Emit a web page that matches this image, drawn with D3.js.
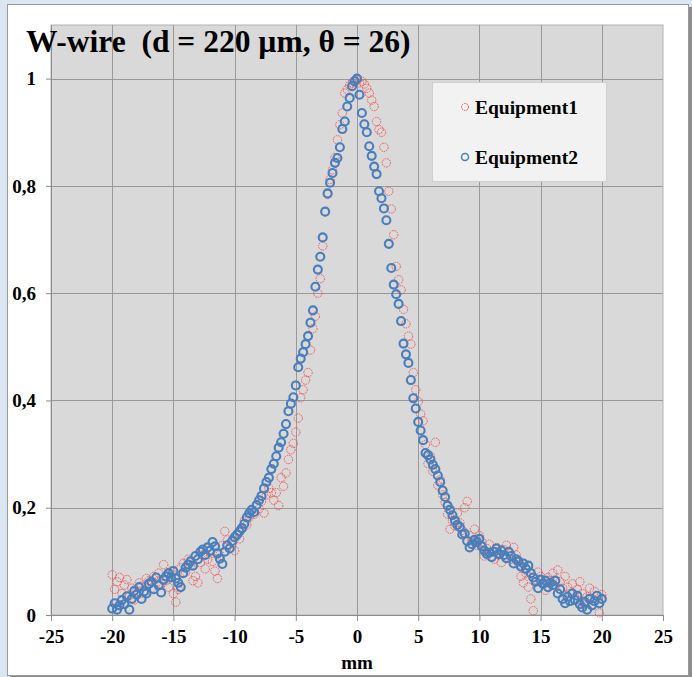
<!DOCTYPE html>
<html>
<head>
<meta charset="utf-8">
<script src="https://cdn.jsdelivr.net/npm/d3@7"></script>
<style>
  html, body { margin: 0; padding: 0; background: #dce6f2; }
  svg { display: block; font-family: "Liberation Serif", "Times New Roman", serif; }
</style>
</head>
<body>
<svg id="chart" width="692" height="677"></svg>
<script>
const chartTitle = "W-wire  (d = 220 \u00b5m, \u03b8 = 26)";
const xAxisTitle = "mm";
const seriesNames = ["Equipment1", "Equipment2"];

const xTicks = [-25, -20, -15, -10, -5, 0, 5, 10, 15, 20, 25];
const yTicks = [0, 0.2, 0.4, 0.6, 0.8, 1];

// scan positions (mm), shared by both series
const positionsMm = [
  -20, -19.8, -19.6, -19.4, -19.2, -19, -18.8, -18.6, -18.4, -18.2,
  -18, -17.8, -17.6, -17.4, -17.2, -17, -16.8, -16.6, -16.4, -16.2,
  -16, -15.8, -15.6, -15.4, -15.2, -15, -14.8, -14.6, -14.4, -14.2,
  -14, -13.8, -13.6, -13.4, -13.2, -13, -12.8, -12.6, -12.4, -12.2,
  -12, -11.8, -11.6, -11.4, -11.2, -11, -10.8, -10.6, -10.4, -10.2,
  -10, -9.8, -9.6, -9.4, -9.2, -9, -8.8, -8.6, -8.4, -8.2,
  -8, -7.8, -7.6, -7.4, -7.2, -7, -6.8, -6.6, -6.4, -6.2,
  -6, -5.8, -5.6, -5.4, -5.2, -5, -4.8, -4.6, -4.4, -4.2,
  -4, -3.8, -3.6, -3.4, -3.2, -3, -2.8, -2.6, -2.4, -2.2,
  -2, -1.8, -1.6, -1.4, -1.2, -1, -0.8, -0.6, -0.4, -0.2,
  0, 0.2, 0.4, 0.6, 0.8, 1, 1.2, 1.4, 1.6, 1.8,
  2, 2.2, 2.4, 2.6, 2.8, 3, 3.2, 3.4, 3.6, 3.8,
  4, 4.2, 4.4, 4.6, 4.8, 5, 5.2, 5.4, 5.6, 5.8,
  6, 6.2, 6.4, 6.6, 6.8, 7, 7.2, 7.4, 7.6, 7.8,
  8, 8.2, 8.4, 8.6, 8.8, 9, 9.2, 9.4, 9.6, 9.8,
  10, 10.2, 10.4, 10.6, 10.8, 11, 11.2, 11.4, 11.6, 11.8,
  12, 12.2, 12.4, 12.6, 12.8, 13, 13.2, 13.4, 13.6, 13.8,
  14, 14.2, 14.4, 14.6, 14.8, 15, 15.2, 15.4, 15.6, 15.8,
  16, 16.2, 16.4, 16.6, 16.8, 17, 17.2, 17.4, 17.6, 17.8,
  18, 18.2, 18.4, 18.6, 18.8, 19, 19.2, 19.4, 19.6, 19.8,
  20
];

const equipment1 = [
  0.075, 0.048, 0.062, 0.070, 0.040, 0.056, 0.066, 0.036, 0.050, 0.028,
  0.044, 0.060, 0.054, 0.040, 0.068, 0.064, 0.050, 0.072, 0.060, 0.078,
  0.058, 0.094, 0.064, 0.052, 0.082, 0.040, 0.024, 0.048, 0.088, 0.096,
  0.080, 0.104, 0.092, 0.064, 0.072, 0.060, 0.098, 0.112, 0.086, 0.104,
  0.118, 0.100, 0.082, 0.068, 0.112, 0.130, 0.156, 0.140, 0.124, 0.134,
  0.120, 0.148, 0.142, 0.160, 0.176, 0.168, 0.182, 0.196, 0.188, 0.206,
  0.198, 0.212, 0.190, 0.224, 0.236, 0.228, 0.214, 0.228, 0.204, 0.256,
  0.240, 0.265, 0.290, 0.308, 0.320, 0.341, 0.367, 0.405, 0.420, 0.438,
  0.452, 0.494, 0.534, 0.557, 0.600, 0.627, 0.688, 0.752, 0.784, 0.812,
  0.830, 0.853, 0.886, 0.914, 0.936, 0.973, 0.980, 0.988, 0.992, 0.996,
  0.998, 0.992, 0.995, 0.990, 0.982, 0.973, 0.960, 0.948, 0.920, 0.905,
  0.900, 0.872, 0.843, 0.790, 0.757, 0.709, 0.650, 0.625, 0.606, 0.570,
  0.543, 0.520, 0.505, 0.452, 0.420, 0.398, 0.375, 0.362, 0.318, 0.282,
  0.296, 0.268, 0.322, 0.242, 0.252, 0.224, 0.210, 0.188, 0.160, 0.176,
  0.166, 0.190, 0.172, 0.158, 0.200, 0.212, 0.148, 0.138, 0.160, 0.130,
  0.148, 0.136, 0.110, 0.124, 0.132, 0.118, 0.104, 0.126, 0.112, 0.098,
  0.122, 0.130, 0.116, 0.104, 0.126, 0.112, 0.094, 0.072, 0.060, 0.078,
  0.052, 0.030, 0.008, 0.066, 0.080, 0.072, 0.058, 0.046, 0.070, 0.064,
  0.078, 0.054, 0.084, 0.062, 0.050, 0.072, 0.052, 0.040, 0.058, 0.030,
  0.048, 0.062, 0.040, 0.020, 0.034, 0.050, 0.028, 0.044, 0.036, 0.004,
  0.038
];

const equipment2 = [
  0.012, 0.022, 0.010, 0.018, 0.028, 0.020, 0.035, 0.010, 0.030, 0.045,
  0.038, 0.052, 0.030, 0.044, 0.040, 0.058, 0.062, 0.048, 0.070, 0.055,
  0.042, 0.066, 0.072, 0.078, 0.070, 0.082, 0.068, 0.060, 0.052, 0.078,
  0.088, 0.094, 0.100, 0.092, 0.110, 0.104, 0.118, 0.122, 0.112, 0.126,
  0.120, 0.136, 0.128, 0.115, 0.105, 0.095, 0.118, 0.130, 0.124, 0.138,
  0.145, 0.150, 0.156, 0.162, 0.170, 0.182, 0.190, 0.196, 0.192, 0.205,
  0.214, 0.222, 0.236, 0.248, 0.256, 0.272, 0.282, 0.296, 0.312, 0.322,
  0.338, 0.356, 0.380, 0.394, 0.406, 0.428, 0.462, 0.478, 0.490, 0.505,
  0.520, 0.545, 0.568, 0.612, 0.644, 0.668, 0.704, 0.752, 0.786, 0.806,
  0.824, 0.843, 0.852, 0.872, 0.906, 0.920, 0.948, 0.964, 0.986, 0.995,
  1.000, 0.970, 0.936, 0.915, 0.900, 0.874, 0.856, 0.836, 0.822, 0.790,
  0.777, 0.758, 0.736, 0.692, 0.647, 0.616, 0.598, 0.580, 0.548, 0.506,
  0.486, 0.470, 0.438, 0.404, 0.385, 0.360, 0.344, 0.326, 0.302, 0.298,
  0.290, 0.280, 0.272, 0.260, 0.248, 0.232, 0.220, 0.204, 0.196, 0.186,
  0.176, 0.168, 0.164, 0.150, 0.152, 0.138, 0.126, 0.132, 0.140, 0.136,
  0.142, 0.128, 0.120, 0.114, 0.116, 0.108, 0.118, 0.124, 0.114, 0.120,
  0.112, 0.106, 0.118, 0.110, 0.096, 0.104, 0.100, 0.090, 0.096, 0.086,
  0.092, 0.078, 0.070, 0.062, 0.050, 0.066, 0.058, 0.064, 0.052, 0.060,
  0.056, 0.064, 0.040, 0.048, 0.030, 0.022, 0.034, 0.026, 0.040, 0.028,
  0.036, 0.020, 0.014, 0.024, 0.010, 0.030, 0.018, 0.026, 0.036, 0.022,
  0.030
];

const svg = d3.select("#chart");
const W = 692, H = 677;
const margin = { top: 25, right: 29, bottom: 62, left: 51 };
const innerW = W - margin.left - margin.right;
const innerH = H - margin.top - margin.bottom;

// outer chart frame (white panel with shadowed border)
svg.append("rect").attr("x", 10).attr("y", 7).attr("width", 682).attr("height", 670).attr("fill", "#8c8c8c");
svg.append("rect")
  .attr("x", 7.5).attr("y", 4.5).attr("width", 681).attr("height", 671)
  .attr("fill", "#ffffff").attr("stroke", "#9a9a9a").attr("stroke-width", 1);

const x = d3.scaleLinear().domain([-25, 25]).range([0, innerW]);
const y = d3.scaleLinear().domain([0, 1.1]).range([innerH, 0]);

const g = svg.append("g").attr("transform", `translate(${margin.left},${margin.top})`);

g.append("rect")
  .attr("width", innerW).attr("height", innerH)
  .attr("fill", "#d9d9d9").attr("stroke", "#b3b3b3").attr("stroke-width", 1);

// gridlines
g.append("g").selectAll("line")
  .data(yTicks.filter((t) => t > 0))
  .join("line")
  .attr("x1", 0).attr("x2", innerW)
  .attr("y1", (d) => Math.round(y(d)) + 0.5).attr("y2", (d) => Math.round(y(d)) + 0.5)
  .attr("stroke", "#999999").attr("stroke-width", 1);

g.append("g").selectAll("line")
  .data(xTicks.slice(1, -1))
  .join("line")
  .attr("x1", (d) => Math.round(x(d)) + 0.5).attr("x2", (d) => Math.round(x(d)) + 0.5)
  .attr("y1", 0).attr("y2", innerH)
  .attr("stroke", "#999999").attr("stroke-width", 1);

// axes (plain hyphen for negatives, comma decimals as in the original)
const gx = g.append("g").attr("transform", `translate(0,${innerH})`)
  .call(d3.axisBottom(x).tickValues(xTicks).tickSize(6).tickPadding(9).tickFormat((d) => String(d)));
const gy = g.append("g")
  .call(d3.axisLeft(y).tickValues(yTicks).tickSize(5).tickPadding(10)
    .tickFormat((d) => (d === 0 || d === 1 ? String(d) : d.toFixed(1).replace(".", ","))));

[gx, gy].forEach((ax) => {
  ax.select(".domain").attr("stroke", "#8c8c8c");
  ax.selectAll(".tick line").attr("stroke", "#8c8c8c");
  ax.selectAll("text")
    .attr("fill", "#000")
    .style("font-family", "'Liberation Serif', 'Times New Roman', serif")
    .style("font-weight", "bold")
    .style("font-size", "19px");
});
gy.select(".domain").attr("d", `M0.5,${innerH}V0`);

// markers
const pts1 = positionsMm.map((p, i) => ({ x: p, y: equipment1[i] }));
const pts2 = positionsMm.map((p, i) => ({ x: p, y: equipment2[i] }));

g.append("g").selectAll("circle")
  .data(pts1)
  .join("circle")
  .attr("cx", (d) => x(d.x)).attr("cy", (d) => y(d.y))
  .attr("r", 4.2)
  .attr("fill", "none")
  .attr("stroke", "#f04848")
  .attr("stroke-width", 1)
  .attr("stroke-dasharray", "1.6,0.9")
  .attr("stroke-opacity", 0.85);

g.append("g").selectAll("circle")
  .data(pts2)
  .join("circle")
  .attr("cx", (d) => x(d.x)).attr("cy", (d) => y(d.y))
  .attr("r", 4)
  .attr("fill", "none")
  .attr("stroke", "#4a7ebb")
  .attr("stroke-width", 2.1);

// title
svg.append("text")
  .attr("x", 26).attr("y", 52)
  .attr("xml:space", "preserve")
  .style("white-space", "pre")
  .style("font-size", "31.5px").style("font-weight", "bold")
  .attr("fill", "#000")
  .text(chartTitle);

// x axis title
svg.append("text")
  .attr("x", margin.left + x(0)).attr("y", 669)
  .attr("text-anchor", "middle")
  .style("font-size", "19px").style("font-weight", "bold")
  .text(xAxisTitle);

// legend
const legend = svg.append("g").attr("transform", "translate(432,82)");
legend.append("rect")
  .attr("x", 0.5).attr("y", 0.5).attr("width", 174).attr("height", 99)
  .attr("fill", "#f2f2f2").attr("stroke", "#d0d0d0");
const legendItems = legend.selectAll("g.item")
  .data(seriesNames)
  .join("g")
  .attr("class", "item")
  .attr("transform", (d, i) => `translate(0,${25 + i * 50})`);
legendItems.append("circle")
  .attr("cx", 33).attr("cy", 0).attr("r", 3.5)
  .attr("fill", "none")
  .attr("stroke", (d, i) => (i === 0 ? "#f04848" : "#4a7ebb"))
  .attr("stroke-width", (d, i) => (i === 0 ? 1 : 1.5))
  .attr("stroke-dasharray", (d, i) => (i === 0 ? "1.6,0.9" : null));
legendItems.append("text")
  .attr("x", 43).attr("y", 6.5)
  .style("font-size", "19.5px").style("font-weight", "bold")
  .text((d) => d);
</script>
</body>
</html>
